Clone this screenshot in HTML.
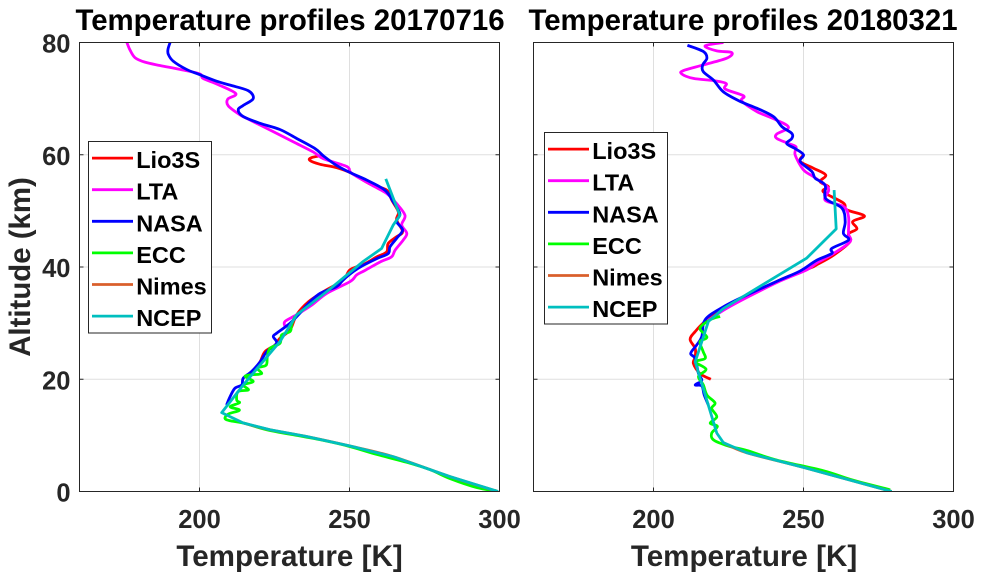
<!DOCTYPE html>
<html lang="en">
<head>
<meta charset="utf-8">
<title>Temperature profiles</title>
<style>
html,body{margin:0;padding:0;background:#fff;width:984px;height:579px;overflow:hidden}
svg{display:block;font-family:"Liberation Sans",Arial,sans-serif;font-weight:bold}
</style>
</head>
<body>
<svg id="chart" width="984" height="579" viewBox="0 0 984 579" xmlns="http://www.w3.org/2000/svg">
  <defs>
    <clipPath id="clip-left"><rect x="79.5" y="42.5" width="420" height="449"/></clipPath>
    <clipPath id="clip-right"><rect x="533.5" y="42.5" width="420" height="449"/></clipPath>
  </defs>
  <text x="290" y="30" font-size="29.4" text-anchor="middle" fill="#000">Temperature profiles 20170716</text>
  <text x="743" y="30" font-size="29.4" text-anchor="middle" fill="#000">Temperature profiles 20180321</text>
  <text transform="translate(30,267) rotate(-90)" font-size="29.4" text-anchor="middle" fill="#262626">Altitude (km)</text>
  <text x="289.5" y="566" font-size="29.6" text-anchor="middle" fill="#262626">Temperature [K]</text>
  <text x="744" y="566" font-size="29.6" text-anchor="middle" fill="#262626">Temperature [K]</text>
  <g id="left-panel"></g>
  <g id="right-panel"></g>
</svg>
<script>
const xTicks = [200, 250, 300];
const yTicks = [0, 20, 40, 60, 80];
const leftYLabels = ['0', '20', '40', '60', '80'];
const seriesNames = ['Lio3S', 'LTA', 'NASA', 'ECC', 'Nimes', 'NCEP'];
const seriesColors = ['#ff0000', '#ff00ff', '#0000ff', '#00ff00', '#d95f2b', '#00bfbf'];

const leftLio3S = [[241.3,59.9],[237.4,59.5],[236.8,59],[240.2,58.3],[245.7,57.7],[250.7,56.7],[256.8,54.8],[262.4,53.7],[264.1,51.9],[266.3,49.8],[265.7,48.4],[267.7,46.3],[265.7,45.4],[262.9,44.2],[262.4,42.7],[259.1,41.8],[255.2,40.6],[250.2,39.5],[247.9,37.7],[241.3,35.6],[236.3,33.8],[232.4,31.5],[230.2,28.8],[226.8,27.3],[225.2,26.1],[221.8,24.9],[220.2,23.1],[217.9,21.4]];
const leftLTA = [[175.8,80],[176.8,78.7],[178.5,77.3],[181.8,76.5],[186.8,75.9],[193.5,75.2],[200.1,74.4],[201.2,73.6],[206.2,72.5],[212.1,70.9],[209.4,69.9],[209.6,68.7],[213.5,67.1],[215.7,66.5],[223.5,64.4],[231.3,62.3],[237.9,60.5],[241.3,59.3],[249.1,57.9],[250.7,56.7],[257.4,54.6],[262.4,53.1],[265.7,51.3],[268.5,49.2],[267.4,47.5],[269.1,46],[267.9,44.8],[265.2,43],[264,41.8],[260.2,40.9],[255.2,39.4],[252.4,38.6],[250.2,37.4],[242.4,35.3],[237.4,33.2],[232.4,31.5],[228.5,30.3],[228.5,29.4]];
const leftNASA = [[190.2,80],[189.5,78.8],[189.6,77.9],[191.2,76.7],[195.7,75.2],[199.9,74.3],[205.7,73.1],[210.2,72.4],[216.3,71.4],[217.9,70],[214.6,68.8],[212.9,68],[214.6,66.8],[220.2,65.6],[226.8,64.5],[232.4,62.9],[238.5,61.1],[241.3,59.8],[245.7,58.1],[250.7,56.7],[255.7,55.5],[261.8,53.7],[264.6,51.6],[266.8,49.5],[265.7,48.1],[267.7,46.6],[265.7,45.1],[263.5,43.6],[262.9,42.4],[259.1,41.5],[254.6,40.3],[251.3,39.2],[247.9,37.7],[245.7,36.5],[240.2,35.3],[236.3,33.5],[233.5,31.8],[230.2,30],[225.7,28.2],[224.6,27.6],[225.7,26.4],[222.4,24.9],[220.2,23.1],[217.4,21.4],[214.6,20.2],[214.1,19],[211.8,18.4],[210.2,16.9],[209,15.4]];
const leftECC = [[231.8,31.2],[230.7,29.7],[230.2,28.5],[227.4,27.9],[226.8,26.4],[223.5,25.5],[222.6,24],[222.2,22.5],[219.3,22],[220.7,21],[217.4,20.8],[215.2,20.5],[217.9,19.6],[214.6,19],[216.3,18.1],[212.9,17.8],[212.4,16.3],[213.3,15.8],[210.2,15.1],[213.3,14.5],[209.6,13.8],[208.5,13],[210.2,12.6],[214.6,12.2],[222.4,11],[231.3,10.1],[241.3,9.1],[250.2,8],[259.1,6.6],[269.1,5.2],[276.8,3.9],[283.5,2.3],[292.4,0.7],[299,0.1]];
const leftNimes = [[214.6,12.2],[223.5,11],[235.7,9.8],[250.2,8.1],[264.6,6.2],[283.5,2.65],[299.5,0]];
const leftNCEP = [[262.1,55.7],[266.8,49.2],[264.6,47.5],[260.7,43.3],[254.6,41],[242.4,35.6],[232.4,31.5],[226.8,26.7],[214.6,19],[207.4,14.05],[214.6,12.2],[223.5,11],[235.7,9.8],[250.2,8.1],[264.6,6.2],[283.5,2.65],[299.5,0]];

const rightLio3S = [[250,60],[248.9,58.8],[253.3,57.6],[257.4,56.4],[255.5,55.2],[258.3,54.3],[256.6,53.4],[263.3,51.4],[264.4,50.2],[270.3,49.1],[266.4,48.1],[267.8,46.8],[265,45.9],[265.5,44.5],[260,42.1],[254.4,40.4],[252.2,39.8],[242.2,37.7],[232.2,35],[223.3,32.6],[217.2,30.3],[213.9,28.5],[212.2,27.1],[213.9,25.5],[213.9,24],[213.3,22.8],[215.5,21],[219.1,20]];
const rightLTA = [[223.3,80],[217.2,79.4],[221.1,78.5],[226.1,78.2],[224.4,77.2],[216.6,76],[210,75],[209.4,74.4],[213.3,73.6],[220,73.2],[224.2,72.7],[223.9,71.7],[230,70.5],[229.4,69.6],[234.4,67.7],[240.5,66.3],[245,64.9],[241.1,63.7],[241.1,62.9],[245,62],[247.5,61.4],[247.2,60],[250,57.3],[253.3,56.1],[258.3,54],[257.2,51.9],[263.3,50.8],[265,49],[265,46],[265.5,44.5],[260,42.4],[254.4,40.7],[251.1,39.5],[242.2,37.5],[232,34.8],[224,32.5],[218,30.4]];
const rightNASA = [[211.3,79.5],[216.6,78.4],[217.8,77.2],[216.4,76],[216.6,74.8],[220,73.3],[223.3,71.2],[228.9,69.5],[234.4,68.3],[240,66.8],[242.8,65],[246.1,63.8],[246.1,62.9],[244.4,62],[247.2,61.1],[250,60],[248.9,58.8],[252.8,57],[253.9,55.8],[257.2,54.6],[257.4,52.2],[262.8,50.5],[263.9,48.1],[263.3,46],[265,44.8],[259.4,43.3],[259.4,42.4],[254.4,41.2],[248.9,39.3],[242.2,37.7],[231.1,35],[223.3,32.9],[217.2,30.6],[216.1,27.6],[214.4,26.1],[212.4,24.6],[213.9,23.7],[215,21],[216.1,19.8],[213.9,19],[216.1,18.8],[216.9,17.2],[218.3,15.4]];
const rightECC = [[222.2,31.2],[218.9,30.6],[215.5,29.1],[217.8,27.5],[215.5,26.7],[216.5,25],[217.2,23.7],[213.9,23.1],[217.5,21.8],[215,20.5],[216.6,19],[217.8,17.2],[220.5,15.8],[219.4,14.8],[221.1,13.3],[218.9,12.2],[221.3,11.6],[219.4,10.4],[220,9.2],[225,8.1],[231.1,7.3],[241.1,5.6],[256.6,3.7],[266.6,2],[278.9,0.3]];
const rightNimes = [[223.3,8.7],[231.1,6.9],[250,4.3],[279.4,0]];
const rightNCEP = [[260.2,53.7],[260.9,46.8],[251.1,41.6],[223.3,32.6],[218.3,30.3],[213.9,23.1],[221.1,10.4],[223.3,8.7],[231.1,6.9],[250,4.3],[279.4,0]];

const leftSeries = [leftLio3S, leftLTA, leftNASA, leftECC, leftNimes, leftNCEP];
const rightSeries = [rightLio3S, rightLTA, rightNASA, rightECC, rightNimes, rightNCEP];

const NS = 'http://www.w3.org/2000/svg';
const yScale = a => 491.5 - a * 449 / 80;

function pathFrom(pts, smooth) {
  let d = 'M' + pts[0][0].toFixed(2) + ' ' + pts[0][1].toFixed(2);
  for (let i = 0; i < pts.length - 1; i++) {
    const p0 = pts[Math.max(i - 1, 0)], p1 = pts[i], p2 = pts[i + 1], p3 = pts[Math.min(i + 2, pts.length - 1)];
    if (smooth) {
      const c1x = p1[0] + (p2[0] - p0[0]) / 6, c1y = p1[1] + (p2[1] - p0[1]) / 6;
      const c2x = p2[0] - (p3[0] - p1[0]) / 6, c2y = p2[1] - (p3[1] - p1[1]) / 6;
      d += 'C' + c1x.toFixed(2) + ' ' + c1y.toFixed(2) + ' ' + c2x.toFixed(2) + ' ' + c2y.toFixed(2) + ' ' + p2[0].toFixed(2) + ' ' + p2[1].toFixed(2);
    } else {
      d += 'L' + p2[0].toFixed(2) + ' ' + p2[1].toFixed(2);
    }
  }
  return d;
}

function drawPanel(root, prefix, left, series, clipId, legendLeft, legendTop, showYLabels) {
  const xScale = t => left + (t - 160) * 420 / 140;
  const right = left + 420, top = 42.5, bottom = 491.5;

  xTicks.forEach(function (t) {
    const x = xScale(t);
    if (t < 300) {
      const g = document.createElementNS(NS, 'line');
      
      
      g.setAttribute('x1', x); g.setAttribute('x2', x);
      g.setAttribute('y1', top); g.setAttribute('y2', bottom);
      g.setAttribute('stroke', '#dfdfdf');
      root.appendChild(g);
      [[bottom, bottom - 4], [top, top + 4]].forEach(function (p) {
        const tk = document.createElementNS(NS, 'line');
        
        
        tk.setAttribute('x1', x); tk.setAttribute('x2', x);
        tk.setAttribute('y1', p[0]); tk.setAttribute('y2', p[1]);
        tk.setAttribute('stroke', '#262626');
        root.appendChild(tk);
      });
    }
    const lab = document.createElementNS(NS, 'text');
    
    
    lab.setAttribute('x', x); lab.setAttribute('y', 528);
    lab.setAttribute('font-size', '25.5');
    lab.setAttribute('text-anchor', 'middle');
    lab.setAttribute('fill', '#262626');
    lab.textContent = String(t);
    root.appendChild(lab);
  });

  yTicks.forEach(function (a, i) {
    const y = yScale(a);
    if (a > 0 && a < 80) {
      const g = document.createElementNS(NS, 'line');
      
      
      g.setAttribute('x1', left); g.setAttribute('x2', right);
      g.setAttribute('y1', y); g.setAttribute('y2', y);
      g.setAttribute('stroke', '#dfdfdf');
      root.appendChild(g);
      [[left, left + 4], [right, right - 4]].forEach(function (p) {
        const tk = document.createElementNS(NS, 'line');
        
        
        tk.setAttribute('x1', p[0]); tk.setAttribute('x2', p[1]);
        tk.setAttribute('y1', y); tk.setAttribute('y2', y);
        tk.setAttribute('stroke', '#262626');
        root.appendChild(tk);
      });
    }
    if (showYLabels) {
      const lab = document.createElementNS(NS, 'text');
      
      
      lab.setAttribute('x', left - 9); lab.setAttribute('y', y + 10);
      lab.setAttribute('font-size', '25.5');
      lab.setAttribute('text-anchor', 'end');
      lab.setAttribute('fill', '#262626');
      lab.textContent = leftYLabels[i];
      root.appendChild(lab);
    }
  });

  series.forEach(function (pts, i) {
    const screen = pts.map(function (p) { return [xScale(p[0]), yScale(p[1])]; });
    const line = document.createElementNS(NS, 'path');
    
    
    line.setAttribute('d', pathFrom(screen, seriesNames[i] !== 'NCEP'));
    line.setAttribute('fill', 'none');
    line.setAttribute('stroke', seriesColors[i]);
    line.setAttribute('stroke-width', '2.8');
    line.setAttribute('stroke-linejoin', 'round');
    line.setAttribute('clip-path', 'url(#' + clipId + ')');
    root.appendChild(line);
  });

  const frame = document.createElementNS(NS, 'rect');
  
  
  frame.setAttribute('x', left); frame.setAttribute('y', top);
  frame.setAttribute('width', 420); frame.setAttribute('height', 449);
  frame.setAttribute('fill', 'none');
  frame.setAttribute('stroke', '#262626');
  root.appendChild(frame);

  const legend = document.createElementNS(NS, 'g');
  
  
  root.appendChild(legend);

  const box = document.createElementNS(NS, 'rect');
  
  
  box.setAttribute('x', legendLeft); box.setAttribute('y', legendTop);
  box.setAttribute('width', 123); box.setAttribute('height', 191.5);
  box.setAttribute('fill', '#fff');
  box.setAttribute('stroke', '#262626');
  legend.appendChild(box);

  seriesNames.forEach(function (name, i) {
    const y = legendTop + 16.6 + i * 31.6;
    const sw = document.createElementNS(NS, 'line');
    
    
    sw.setAttribute('x1', legendLeft + 3.5); sw.setAttribute('x2', legendLeft + 44.5);
    sw.setAttribute('y1', y); sw.setAttribute('y2', y);
    sw.setAttribute('stroke', seriesColors[i]);
    sw.setAttribute('stroke-width', '2.8');
    legend.appendChild(sw);
    const tx = document.createElementNS(NS, 'text');
    
    
    tx.setAttribute('x', legendLeft + 47.7); tx.setAttribute('y', y + 10);
    tx.setAttribute('font-size', '23.5');
    tx.setAttribute('fill', '#000');
    tx.textContent = name;
    legend.appendChild(tx);
  });
}

drawPanel(document.getElementById('left-panel'), 'left', 79.5, leftSeries, 'clip-left', 88.5, 141.5, true);
drawPanel(document.getElementById('right-panel'), 'right', 533.5, rightSeries, 'clip-right', 544.5, 132.5, false);
</script>
</body>
</html>
